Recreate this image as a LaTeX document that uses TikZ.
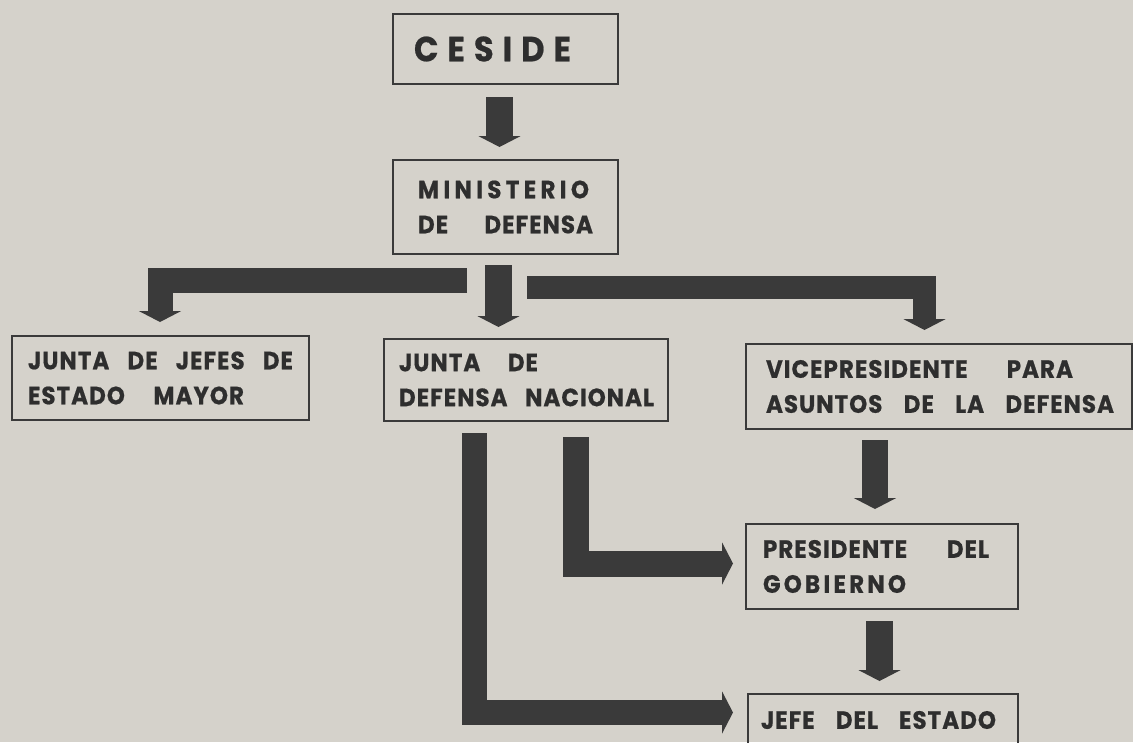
\documentclass[tikz,border=0pt]{standalone}
\usepackage{fontspec}
\setmainfont{Poppins}[LetterSpace=4, FakeStretch=0.92, FakeBold=0.6]
\usetikzlibrary{arrows.meta}
\definecolor{bg}{HTML}{D5D2CB}
\definecolor{ink}{HTML}{3A3A3A}
\definecolor{txt}{HTML}{2E2E2E}
\newcommand{\spreadw}[2]{\makebox[#1pt]{#2}}
\tikzset{
  box/.style={draw=ink, line width=2pt, anchor=north west, align=left,
    inner ysep=0pt, text=txt, font=\fontsize{25}{35}\selectfont\bfseries},
  arr/.style={draw=ink, line width=25pt, line join=miter, line cap=butt,
    -{Triangle[length=11pt,width=42pt]}},
}
\begin{document}
\begin{tikzpicture}[x=1pt,y=-1pt]
\useasboundingbox (0,0) rectangle (1133,742);
\clip (0,0) rectangle (1133,742);
\fill[bg] (0,0) rectangle (1133,742);

% boxes
\node[box, minimum height=70pt, text width=183pt, inner xsep=21pt,
  font=\fontsize{35}{40}\selectfont\bfseries] (ces) at (392,13)
  {\spreadw{157}{C\hfill E\hfill S\hfill I\hfill D\hfill E}};
\node[box, minimum height=94pt, text width=175pt, inner xsep=25pt] (min) at (392,159)
  {\spreadw{171}{M\hfill I\hfill N\hfill I\hfill S\hfill T\hfill E\hfill R\hfill I\hfill O}\\
   \spreadw{175}{DE\hfill DEFENSA}};
\node[box, minimum height=84pt, text width=265pt, inner xsep=16pt] (jjem) at (11,335)
  {\spreadw{265}{JUNTA\hfill DE\hfill JEFES\hfill DE}\\ \spreadw{216}{ESTADO\hfill MAYOR}};
\node[box, minimum height=82pt, text width=254pt, inner xsep=15pt] (jdn) at (383,338)
  {\spreadw{139}{JUNTA\hfill DE}\\ \spreadw{255}{DEFENSA\hfill NACIONAL}};
\node[box, minimum height=85pt, text width=346pt, inner xsep=20pt] (vice) at (745,343)
  {\spreadw{307}{VICEPRESIDENTE\hfill PARA}\\ \spreadw{348}{ASUNTOS\hfill DE\hfill LA\hfill DEFENSA}};
\node[box, minimum height=85pt, text width=238pt, inner xsep=17pt] (pres) at (745,523)
  {\spreadw{226}{PRESIDENTE\hfill DEL}\\ \spreadw{143}{G\hfill O\hfill B\hfill I\hfill E\hfill R\hfill N\hfill O}};
\node[box, minimum height=52pt, text width=244pt, inner xsep=13pt] (jefe) at (747,693)
  {\spreadw{235}{JEFE\hfill DEL\hfill ESTADO}};

% connector points
\coordinate (a1) at (499.5,97);   \coordinate (a1e) at (499.5,147);
\coordinate (bL) at (467,280);    \coordinate (bLe) at (160,322);
\coordinate (bC) at (498.5,265);  \coordinate (bCe) at (498.5,327);
\coordinate (bR) at (527,287);    \coordinate (bRe) at (924.5,330);
\coordinate (oL) at (474,433);    \coordinate (oLe) at (733,712.5);
\coordinate (iL) at (576,437);    \coordinate (iLe) at (733,563.5);
\coordinate (v1) at (875,440);    \coordinate (v1e) at (875,509);
\coordinate (p1) at (879.5,621);  \coordinate (p1e) at (879.5,681);

% connectors
\draw[arr, line width=27pt] (a1) -- (a1e);
\draw[arr, line width=25pt] (bL) -| (bLe);
\draw[arr, line width=27pt] (bC) -- (bCe);
\draw[arr, line width=23pt] (bR) -| (bRe);
\draw[arr, line width=25pt] (oL) |- (oLe);
\draw[arr, line width=26pt] (iL) |- (iLe);
\draw[arr, line width=26pt] (v1) -- (v1e);
\draw[arr, line width=27pt] (p1) -- (p1e);
\end{tikzpicture}
\end{document}
